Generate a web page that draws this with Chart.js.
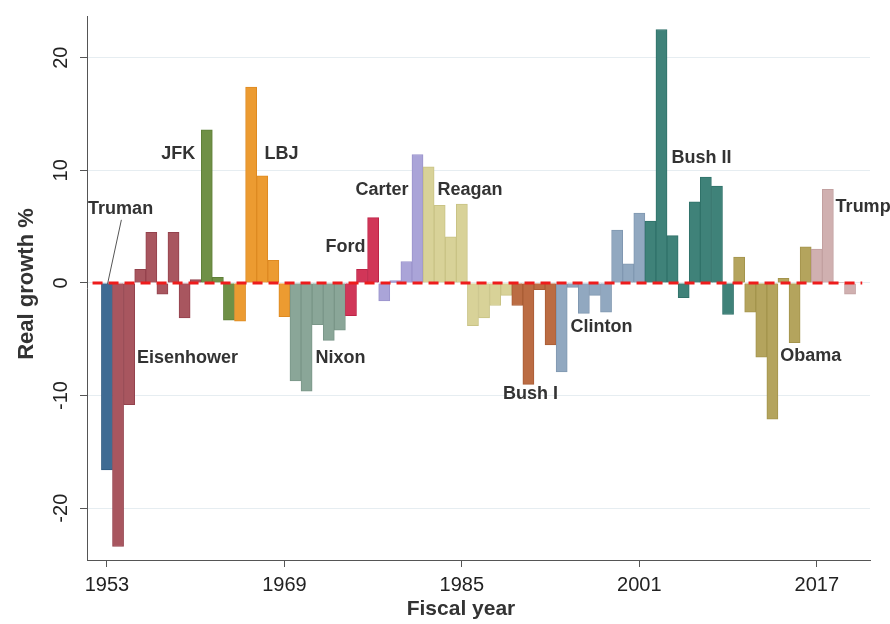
<!DOCTYPE html>
<html><head><meta charset="utf-8">
<script src="https://cdn.jsdelivr.net/npm/chart.js@4.4.1/dist/chart.umd.min.js"></script>
<style>html,body{margin:0;padding:0;background:#fff}#wrap{width:890px;height:624px;position:relative}</style>
</head><body><div id="wrap"><canvas id="c"></canvas></div>
<script>
// ---- data ----
const years = [1953,1954,1955,1956,1957,1958,1959,1960,1961,1962,1963,1964,1965,1966,1967,1968,1969,
  1970,1971,1972,1973,1974,1975,1976,1977,1978,1979,1980,1981,1982,1983,1984,1985,1986,1987,1988,1989,
  1990,1991,1992,1993,1994,1995,1996,1997,1998,1999,2000,2001,2002,2003,2004,2005,2006,2007,2008,2009,
  2010,2011,2012,2013,2014,2015,2016,2017,2018,2019,2020];
const growth = [-16.6,-23.4,-10.8,1.2,4.5,-1.0,4.5,-3.1,0.3,13.6,0.5,-3.3,-3.4,17.4,9.5,2.0,-3.0,
  -8.7,-9.6,-3.7,-5.1,-4.2,-2.9,1.2,5.8,-1.6,0.2,1.9,11.4,10.3,6.9,4.1,7.0,-3.8,-3.1,-2.0,-1.1,
  -2.0,-9.0,-0.6,-5.5,-7.9,-0.4,-2.7,-1.1,-2.6,4.7,1.7,6.2,5.5,22.5,4.2,-1.3,7.2,9.4,8.6,-2.8,
  2.3,-2.6,-6.6,-12.1,0.4,-5.3,3.2,3.0,8.3,0.05,-1.0];
const president = ["Truman","Eisenhower","Eisenhower","Eisenhower","Eisenhower","Eisenhower","Eisenhower","Eisenhower","Eisenhower",
  "JFK","JFK","JFK","LBJ","LBJ","LBJ","LBJ","LBJ",
  "Nixon","Nixon","Nixon","Nixon","Nixon","Ford","Ford","Ford","Carter","Carter","Carter","Carter",
  "Reagan","Reagan","Reagan","Reagan","Reagan","Reagan","Reagan","Reagan",
  "Bush I","Bush I","Bush I","Bush I","Clinton","Clinton","Clinton","Clinton","Clinton","Clinton","Clinton","Clinton",
  "Bush II","Bush II","Bush II","Bush II","Bush II","Bush II","Bush II","Bush II",
  "Obama","Obama","Obama","Obama","Obama","Obama","Obama","Trump","Trump","Trump","Trump"];
const xTickYears = [1953,1969,1985,2001,2017];
const yTickValues = [-20,-10,0,10,20];
const xTitle = "Fiscal year";
const yTitle = "Real growth %";

// ---- styles ----
const fillColor = {"Truman":"#3f6b93","Eisenhower":"#a8565f","JFK":"#6f9046","LBJ":"#ec9b31","Nixon":"#8aa698",
  "Ford":"#d13658","Carter":"#aaa4d8","Reagan":"#d8d298","Bush I":"#bb6c43","Clinton":"#91a8c0",
  "Bush II":"#3f8279","Obama":"#b4a45d","Trump":"#d0b0b0"};
const borderColor = {"Truman":"#2f5a80","Eisenhower":"#94424d","JFK":"#5e7f38","LBJ":"#de8a22","Nixon":"#7a9688",
  "Ford":"#be2447","Carter":"#9a93cc","Reagan":"#c9c385","Bush I":"#a95c35","Clinton":"#8198b1",
  "Bush II":"#30726a","Obama":"#a4944c","Trump":"#c2a0a0"};
// label anchors (left edge, vertical middle) in data coordinates
const labelPos = {"Truman":[1951.3,6.6],"JFK":[1957.9,11.45],"LBJ":[1967.2,11.45],"Eisenhower":[1955.7,-6.65],
  "Nixon":[1971.8,-6.65],"Ford":[1972.7,3.22],"Carter":[1975.4,8.25],"Reagan":[1982.8,8.25],
  "Bush I":[1988.7,-9.9],"Clinton":[1994.8,-3.88],"Bush II":[2003.9,11.1],"Obama":[2013.7,-6.45],"Trump":[2018.7,6.7]};
const FONT = '"Liberation Sans", Arial, sans-serif';

const barData = years.map((y,i)=>({x:y,y:growth[i]}));

const annot = {
  id:'annot',
  afterDatasetsDraw(chart){
    const {ctx, scales:{x,y}} = chart;
    ctx.save();
    ctx.fillStyle = '#333';
    ctx.font = 'bold 18px ' + FONT;
    ctx.textBaseline = 'middle';
    ctx.textAlign = 'left';
    for (const name in labelPos){
      const p = labelPos[name];
      ctx.fillText(name, x.getPixelForValue(p[0]), y.getPixelForValue(p[1]));
    }
    // Truman leader line
    ctx.strokeStyle = '#555'; ctx.lineWidth = 1;
    ctx.beginPath();
    ctx.moveTo(x.getPixelForValue(1954.3), y.getPixelForValue(5.6));
    ctx.lineTo(x.getPixelForValue(1953.05), y.getPixelForValue(-0.1));
    ctx.stroke();
    // axis titles
    ctx.fillStyle = '#333';
    ctx.font = 'bold 21px ' + FONT;
    ctx.textAlign = 'center';
    ctx.fillText(xTitle, 461, 609);
    ctx.font = 'bold 22px ' + FONT;
    ctx.translate(27, 284);
    ctx.rotate(-Math.PI/2);
    ctx.fillText(yTitle, 0, 0);
    ctx.restore();
  }
};

new Chart(document.getElementById('c'), {
  type:'bar',
  data:{
    datasets:[
      {type:'line', data:[{x:1951.7,y:0},{x:2021.1,y:0}], borderColor:'#ee1c1c', borderWidth:3,
       borderDash:[10,6], pointRadius:0, order:0, fill:false},
      {type:'bar', data:barData, order:1,
       backgroundColor: president.map(p=>fillColor[p]),
       borderColor: president.map(p=>borderColor[p]),
       borderWidth:1, barPercentage:1, categoryPercentage:1, grouped:false}
    ]
  },
  options:{
    responsive:true, maintainAspectRatio:false, animation:false,
    layout:{padding:{top:15,right:20,left:0,bottom:0}},
    plugins:{legend:{display:false}, tooltip:{enabled:false}},
    scales:{
      x:{type:'linear', min:1951.2, max:2021.8, offset:false,
        afterBuildTicks(s){ s.ticks = xTickYears.map(v=>({value:v})); },
        afterFit(s){ s.height = 64; },
        grid:{offset:false, drawOnChartArea:false, drawTicks:true, tickLength:7, tickColor:'#555'},
        border:{display:true, color:'#555', width:1},
        ticks:{color:'#222', font:{family:FONT, size:20}, padding:6, maxRotation:0, autoSkip:false,
          callback:v=>String(v)}
      },
      y:{type:'linear', min:-24.6, max:23.7,
        afterBuildTicks(s){ s.ticks = yTickValues.map(v=>({value:v})); },
        afterFit(s){ s.width = 87; },
        grid:{color:'#e6edf1', lineWidth:1, drawTicks:true, tickLength:7, tickColor:'#555'},
        border:{display:true, color:'#555', width:1},
        ticks:{color:'#222', font:{family:FONT, size:20}, padding:4, minRotation:90, maxRotation:90,
          crossAlign:'center', callback:v=>String(v)}
      }
    }
  },
  plugins:[annot]
});
</script></body></html>
